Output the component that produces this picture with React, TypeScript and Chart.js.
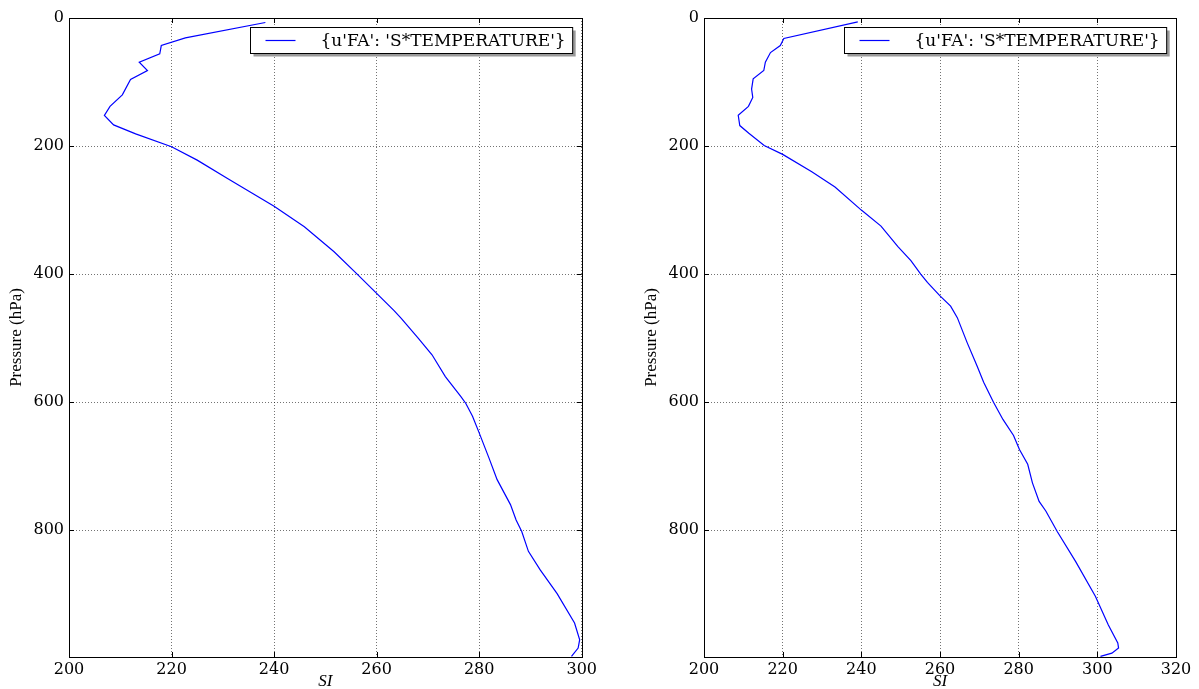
import React, { useEffect, useRef } from 'react';
import { Chart, registerables } from 'chart.js';

Chart.register(...registerables);

// ---- data ----
const leftPressure = [7, 31, 43, 56, 69, 82, 96, 120, 138, 152, 167, 181, 201, 222, 251, 294, 326, 365, 400, 430, 457, 469, 500, 526, 560, 591, 602, 622, 648, 687, 721, 760, 784, 802, 833, 862, 899, 945, 971, 984, 997];
const leftTemperature = [238.3, 222.7, 218.0, 217.7, 213.7, 215.3, 212.0, 210.4, 208.0, 206.9, 208.7, 213.0, 220.0, 225.0, 231.0, 240.0, 245.9, 251.7, 256.2, 260.0, 263.4, 264.8, 268.1, 270.8, 273.4, 276.4, 277.4, 278.7, 280.0, 281.9, 283.5, 286.1, 287.2, 288.3, 289.6, 291.9, 295.2, 298.6, 299.6, 299.3, 298.0];

const rightPressure = [6, 32, 43, 54, 69, 82, 95, 111, 124, 138, 152, 168, 180, 199, 213, 240, 264, 300, 325, 357, 379, 400, 413, 434, 450, 468, 507, 543, 569, 600, 627, 652, 674, 697, 726, 755, 770, 802, 849, 903, 948, 976, 984, 992, 997];
const rightTemperature = [239.1, 220.3, 219.4, 216.9, 215.6, 215.2, 212.5, 212.1, 212.4, 211.3, 208.7, 209.1, 211.4, 215.3, 220.0, 227.4, 233.3, 240.0, 245.0, 249.3, 252.6, 255.1, 256.8, 260.0, 262.7, 264.4, 266.9, 269.4, 271.1, 273.6, 276.0, 278.7, 280.2, 282.3, 283.5, 285.2, 286.9, 289.8, 294.5, 299.5, 302.8, 305.2, 305.4, 303.7, 300.8];

const legendLabel = "{u'FA': 'S*TEMPERATURE'}";
const xAxisTitle = 'SI';
const yAxisTitle = 'Pressure (hPa)';
const xMin = 200;
const leftXMax = 300;
const rightXMax = 320;
const xStep = 20;
const yMin = 0;
const yMax = 998;
const pressureTicks = [0, 200, 400, 600, 800];

const TICK_FONT = { family: '"DejaVu Serif", serif', size: 16 };
const LEGEND_FONT = '17px "DejaVu Serif", serif';

const mplFrame = {
  id: 'mplFrame',
  afterDraw(chart: any) {
    const { ctx, chartArea: a, scales } = chart;
    ctx.save();
    ctx.strokeStyle = '#000';
    ctx.lineWidth = 1;
    ctx.setLineDash([]);
    const tl = 5;
    ctx.beginPath();
    scales.x.ticks.forEach((t: any) => {
      const px = Math.round(scales.x.getPixelForValue(t.value)) + 0.5;
      ctx.moveTo(px, a.top);
      ctx.lineTo(px, a.top + tl);
      ctx.moveTo(px, a.bottom);
      ctx.lineTo(px, a.bottom - tl);
    });
    scales.y.ticks.forEach((t: any) => {
      const py = Math.round(scales.y.getPixelForValue(t.value)) + 0.5;
      ctx.moveTo(a.left, py);
      ctx.lineTo(a.left + tl, py);
      ctx.moveTo(a.right, py);
      ctx.lineTo(a.right - tl, py);
    });
    ctx.stroke();
    ctx.strokeRect(Math.round(a.left) + 0.5, Math.round(a.top) + 0.5, Math.round(a.right - a.left), Math.round(a.bottom - a.top));

    // legend box (upper right, with shadow)
    ctx.font = LEGEND_FONT;
    const tw = ctx.measureText(legendLabel).width;
    const boxH = 26;
    const boxW = 15 + 30 + 25 + tw + 7;
    const bx = Math.round(a.right - 10 - boxW) + 0.5;
    const by = Math.round(a.top + 9) + 0.5;
    ctx.fillStyle = '#9a9a9a';
    ctx.fillRect(bx + 3, by + 3, boxW, boxH);
    ctx.fillStyle = '#fff';
    ctx.fillRect(bx, by, boxW, boxH);
    ctx.strokeStyle = '#000';
    ctx.strokeRect(bx, by, boxW, boxH);
    const cy = by + boxH / 2;
    ctx.strokeStyle = '#0000ff';
    ctx.lineWidth = 1.2;
    ctx.beginPath();
    ctx.moveTo(bx + 15, cy);
    ctx.lineTo(bx + 45, cy);
    ctx.stroke();
    ctx.fillStyle = '#000';
    ctx.textBaseline = 'middle';
    ctx.textAlign = 'left';
    ctx.fillText(legendLabel, bx + 70, cy + 1);
    ctx.restore();
  },
};

type Props = {
  temps: number[];
  pressures: number[];
  xMax: number;
  width: number;
  padLeft: number;
  padRight: number;
};

function ProfileChart({ temps, pressures, xMax, width, padLeft, padRight }: Props) {
  const ref = useRef<HTMLCanvasElement>(null);
  useEffect(() => {
    const points = temps.map((t, i) => ({ x: t, y: pressures[i] }));
    const chart = new Chart(ref.current as HTMLCanvasElement, {
      type: 'scatter',
      data: {
        datasets: [
          {
            label: legendLabel,
            data: points,
            showLine: true,
            borderColor: '#0000ff',
            backgroundColor: '#0000ff',
            borderWidth: 1.2,
            pointRadius: 0,
            tension: 0,
            fill: false,
          },
        ],
      },
      options: {
        responsive: false,
        animation: false,
        layout: { padding: { top: 18, right: padRight, left: padLeft, bottom: 0 } },
        plugins: { legend: { display: false }, tooltip: { enabled: false } },
        scales: {
          x: {
            type: 'linear',
            min: xMin,
            max: xMax,
            ticks: { stepSize: xStep, color: '#000', font: TICK_FONT, padding: 3, maxRotation: 0 },
            grid: { color: 'rgba(0,0,0,0.55)', lineWidth: 1, drawTicks: false },
            border: { display: true, color: '#000', dash: [1, 2] },
            title: {
              display: true,
              text: xAxisTitle,
              color: '#000',
              font: { family: '"Liberation Serif", serif', size: 17, style: 'italic', lineHeight: 0.9 },
              padding: { top: 0, bottom: 0 },
            },
            afterFit: (s: any) => {
              s.height = 32;
            },
          },
          y: {
            type: 'linear',
            reverse: true,
            min: yMin,
            max: yMax,
            ticks: { color: '#000', font: TICK_FONT, padding: 5 },
            afterBuildTicks: (s: any) => {
              s.ticks = pressureTicks.map((v) => ({ value: v }));
            },
            grid: { color: 'rgba(0,0,0,0.55)', lineWidth: 1, drawTicks: false },
            border: { display: true, color: '#000', dash: [1, 2] },
            title: {
              display: true,
              text: yAxisTitle,
              color: '#000',
              font: { family: '"Liberation Serif", serif', size: 17, lineHeight: 1.0 },
              padding: { top: 8, bottom: 0 },
            },
            afterFit: (s: any) => {
              s.width = 69;
            },
          },
        },
      },
      plugins: [mplFrame],
    } as any);
    return () => chart.destroy();
  }, []);
  return <canvas ref={ref} width={width} height={689} style={{ display: 'block', width, height: 689 }} />;
}

export default function App() {
  return (
    <div style={{ position: 'fixed', left: 0, top: 0, width: 1199, height: 689, background: '#fff', overflow: 'hidden' }}>
      <div style={{ position: 'absolute', left: 0, top: 0 }}>
        <ProfileChart temps={leftTemperature} pressures={leftPressure} xMax={leftXMax} width={600} padLeft={0} padRight={10} />
      </div>
      <div style={{ position: 'absolute', left: 600, top: 0 }}>
        <ProfileChart temps={rightTemperature} pressures={rightPressure} xMax={rightXMax} width={599} padLeft={35} padRight={23} />
      </div>
    </div>
  );
}
